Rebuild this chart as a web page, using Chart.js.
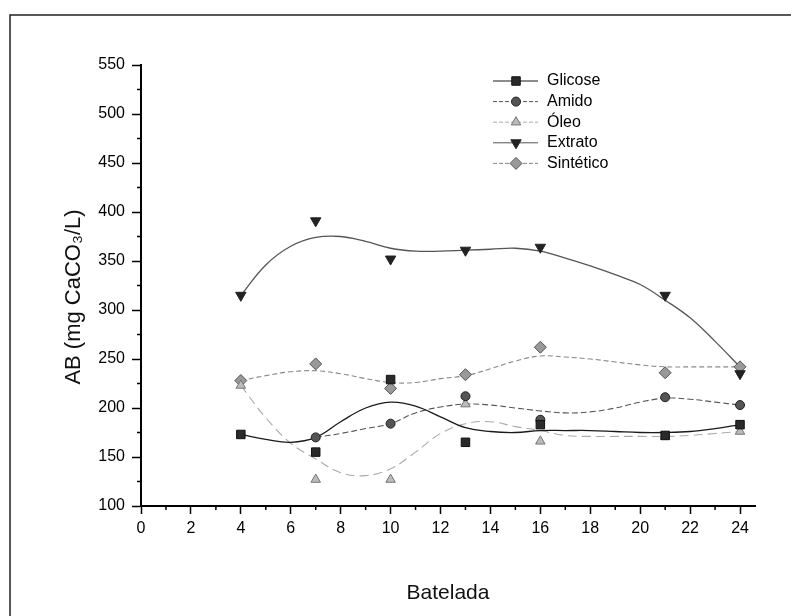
<!DOCTYPE html>
<html>
<head>
<meta charset="utf-8">
<script src="https://cdn.jsdelivr.net/npm/chart.js@4/dist/chart.umd.min.js"></script>
<style>
  html, body { margin: 0; padding: 0; background: #fff; }
  #wrap { width: 791px; height: 616px; }
</style>
</head>
<body>
<div id="wrap"><canvas id="chart" width="791" height="616"></canvas></div>
<script>
// measured points
const batelada  = [4, 7, 10, 13, 16, 21, 24];
const glicose   = [173, 155, 229, 165, 183, 172, 183];
const amido     = [null, 170, 184, 212, 188, 211, 203];
const oleo      = [223, 127, 127, 204, 166, 171, 176];
const extrato   = [315, 391, 352, 361, 364, 315, 235];
const sintetico = [228, 245, 220, 234, 262, 236, 242];

// smoothed curves as drawn in the original
const curveX         = [4, 5, 6, 7, 8, 9, 10, 11, 12, 13, 14, 15, 16, 17, 18, 19, 20, 21, 22, 23, 24];
const glicoseCurve   = [173, 168, 165, 170, 186, 200, 206, 202, 191, 180, 176, 175, 177, 177, 177, 176, 175, 175, 176, 179, 183];
const amidoCurve     = [null, null, null, 170, 174, 179, 184, 195, 201, 204, 203, 200, 197, 195, 196, 200, 206, 210, 209, 206, 203];
const oleoCurve      = [223, 190, 164, 148, 134, 131, 138, 155, 174, 184, 186, 181, 177, 172, 171, 171, 171, 171, 172, 174, 176];
const extratoCurve   = [315, 346, 365, 374, 375, 370, 363, 360, 360, 361, 362, 363, 360, 353, 345, 336, 326, 310, 292, 268, 242];
const sinteticoCurve = [228, 233, 237, 238, 235, 230, 226, 226, 230, 233, 240, 248, 253, 252, 250, 247, 244, 242, 242, 242, 242];

const xTicks = [0, 2, 4, 6, 8, 10, 12, 14, 16, 18, 20, 22, 24];
const xMinor = [1, 3, 5, 7, 9, 11, 13, 15, 17, 19, 21, 23];
const yMinor = [125, 175, 225, 275, 325, 375, 425, 475, 525];

const yTitle = 'AB (mg CaCO\u2083/L)';
const FONT = "'Liberation Sans', Arial, Helvetica, sans-serif";

function pairs(xs, ys) {
  return xs.map((x, i) => ({ x: x, y: ys[i] }));
}

const series = [
  { label: 'Glicose',   pts: glicose,   curve: glicoseCurve,   style: 'rect',     rot: 0,   r: 6,   fill: '#2a2a2a', stroke: '#111', line: '#1a1a1a', dash: [],     lw: 1.3 },
  { label: 'Amido',     pts: amido,     curve: amidoCurve,     style: 'circle',   rot: 0,   r: 4.5, fill: '#555',    stroke: '#222', line: '#555',    dash: [6, 3], lw: 1.1 },
  { label: 'Óleo',      pts: oleo,      curve: oleoCurve,      style: 'triangle', rot: 0,   r: 5.5, fill: '#bbb',    stroke: '#777', line: '#aaa',    dash: [9, 5], lw: 1.1 },
  { label: 'Extrato',   pts: extrato,   curve: extratoCurve,   style: 'triangle', rot: 180, r: 6,   fill: '#222',    stroke: '#222', line: '#555',    dash: [],     lw: 1.3 },
  { label: 'Sintético', pts: sintetico, curve: sinteticoCurve, style: 'rectRot',  rot: 0,   r: 6,   fill: '#999',    stroke: '#555', line: '#888',    dash: [5, 3], lw: 1.1 }
];

const datasets = [];
// markers first so they are painted on top
series.forEach(s => {
  datasets.push({
    label: s.label,
    data: pairs(batelada, s.pts),
    showLine: false,
    pointStyle: s.style,
    rotation: s.rot,
    pointRadius: s.r,
    pointBackgroundColor: s.fill,
    pointBorderColor: s.stroke,
    pointBorderWidth: 1
  });
});
series.forEach(s => {
  datasets.push({
    label: s.label + ' curve',
    data: pairs(curveX, s.curve),
    borderColor: s.line,
    borderWidth: s.lw,
    borderDash: s.dash,
    pointRadius: 0,
    tension: 0.4,
    fill: false
  });
});

const decor = {
  id: 'decor',
  beforeDraw(chart) {
    const ctx = chart.ctx;
    ctx.save();
    ctx.fillStyle = '#fff';
    ctx.fillRect(0, 0, chart.width, chart.height);
    ctx.strokeStyle = '#222';
    ctx.lineWidth = 1.5;
    ctx.beginPath();
    ctx.moveTo(10, chart.height);
    ctx.lineTo(10, 15);
    ctx.lineTo(chart.width, 15);
    ctx.stroke();
    ctx.restore();
  },
  afterDraw(chart) {
    const ctx = chart.ctx;
    const xs = chart.scales.x, ys = chart.scales.y;
    const ca = chart.chartArea;
    ctx.save();
    ctx.strokeStyle = '#000';
    ctx.lineWidth = 1.5;
    ctx.beginPath();
    xMinor.forEach(v => {
      const px = xs.getPixelForValue(v);
      ctx.moveTo(px, ca.bottom);
      ctx.lineTo(px, ca.bottom + 4);
    });
    yMinor.forEach(v => {
      const py = ys.getPixelForValue(v);
      ctx.moveTo(ca.left - 4, py);
      ctx.lineTo(ca.left, py);
    });
    ctx.stroke();

    // y axis title, a bit below the plot centre as in the original
    ctx.save();
    ctx.translate(74, 297);
    ctx.rotate(-Math.PI / 2);
    ctx.font = '22px ' + FONT;
    ctx.fillStyle = '#111';
    ctx.textAlign = 'center';
    ctx.textBaseline = 'middle';
    ctx.fillText(yTitle, 0, 0);
    ctx.restore();

    // legend, Origin style: line - marker - line, then name
    const lx0 = 493, lx1 = 538, mx = 516, tx = 547, ly0 = 81, dy = 20.6;
    ctx.font = '16px ' + FONT;
    ctx.textBaseline = 'middle';
    ctx.textAlign = 'left';
    series.forEach((s, i) => {
      const y = ly0 + i * dy;
      ctx.strokeStyle = s.line;
      ctx.lineWidth = 1;
      ctx.setLineDash(s.dash.length ? [4, 2] : []);
      ctx.beginPath();
      ctx.moveTo(lx0, y);
      ctx.lineTo(lx1, y);
      ctx.stroke();
      ctx.setLineDash([]);
      ctx.fillStyle = s.fill;
      ctx.strokeStyle = s.stroke;
      ctx.lineWidth = 1;
      Chart.helpers.drawPoint(ctx, { pointStyle: s.style, rotation: s.rot, radius: s.r, borderWidth: 1 }, mx, y);
      ctx.fillStyle = '#000';
      ctx.fillText(s.label, tx, y);
    });
    ctx.restore();
  }
};

new Chart(document.getElementById('chart'), {
  type: 'line',
  data: { datasets: datasets },
  options: {
    responsive: false,
    animation: false,
    layout: { padding: { top: 65, right: 36, left: 0, bottom: 0 } },
    plugins: { legend: { display: false }, tooltip: { enabled: false } },
    scales: {
      x: {
        type: 'linear',
        min: 0,
        max: 24.6,
        afterBuildTicks: s => { s.ticks = xTicks.map(v => ({ value: v })); },
        afterFit: s => { s.height = 110; },
        grid: { display: true, drawOnChartArea: false, drawTicks: true, tickLength: 8, tickColor: '#000', tickWidth: 1.5 },
        border: { display: true, color: '#000', width: 2 },
        ticks: { color: '#000', font: { family: FONT, size: 16 }, padding: 5, maxRotation: 0 },
        title: { display: true, text: 'Batelada', color: '#111', font: { family: FONT, size: 21 }, padding: { bottom: 10 } }
      },
      y: {
        min: 100,
        max: 550,
        afterFit: s => { s.width = 141; },
        ticks: { stepSize: 50, color: '#000', font: { family: FONT, size: 16 }, padding: 7 },
        grid: { display: true, drawOnChartArea: false, drawTicks: true, tickLength: 9, tickColor: '#000', tickWidth: 1.5 },
        border: { display: true, color: '#000', width: 2 },
        title: { display: false }
      }
    }
  },
  plugins: [decor]
});
</script>
</body>
</html>
